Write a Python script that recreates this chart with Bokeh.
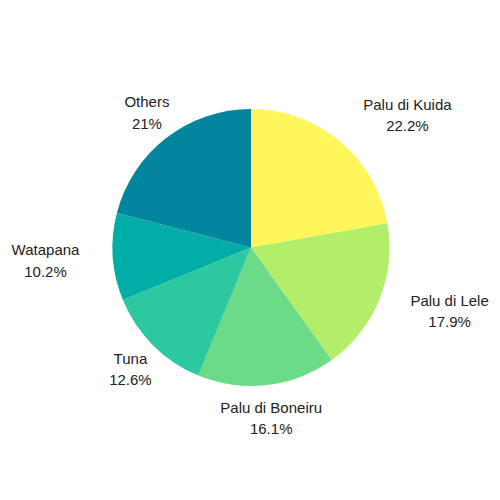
import math
from bokeh.plotting import figure
from bokeh.models import Range1d, ColumnDataSource
from bokeh.core.properties import value
from bokeh.embed import file_html
from bokeh.resources import INLINE

# ---- data ----
categories = ["Palu di Kuida", "Palu di Lele", "Palu di Boneiru", "Tuna", "Watapana", "Others"]
shares = [22.2, 17.9, 16.1, 12.6, 10.2, 21.0]
pct_labels = ["22.2%", "17.9%", "16.1%", "12.6%", "10.2%", "21%"]

# ---- style ----
colors = ["#FEF65A", "#B3EE6A", "#6CDB87", "#2DC89F", "#02ADA8", "#03859F"]
label_radius = [204.9, 208.5, 171.6, 171.1, 205.9, 170.6]   # px from centre
label_nudge_deg = [9.8, -4.4, -0.1, -0.2, 0.4, 0.2]         # clockwise nudge

W, H = 490, 484
cx, cy = 250.5, 253.0   # y measured upward (y = 500 - screen y)
R = 138.5
half_gap = 10.75

total = sum(shares)
starts, ends, mids = [], [], []
acc = 0.0
for s in shares:
    a0 = acc / total
    acc += s
    a1 = acc / total
    starts.append(math.pi / 2 - 2 * math.pi * a0)
    ends.append(math.pi / 2 - 2 * math.pi * a1)
    mids.append(360.0 * (a0 + a1) / 2)

src = ColumnDataSource(dict(cat=categories, start=starts, end=ends, color=colors))

p = figure(width=W, height=H, x_range=Range1d(0, W), y_range=Range1d(500 - H, 500),
           x_axis_type=None, y_axis_type=None, toolbar_location=None,
           output_backend="svg", min_border=0)
p.outline_line_color = None
p.grid.visible = False
p.background_fill_color = "white"
p.border_fill_color = "white"

p.wedge(x=cx, y=cy, radius=R, start_angle="start", end_angle="end",
        direction="clock", fill_color="color", line_color=None, source=src)

lx, l1y, l2y = [], [], []
for m, r, n in zip(mids, label_radius, label_nudge_deg):
    th = math.radians(m + n)
    x = cx + r * math.sin(th)
    yc = cy + r * math.cos(th)   # centre of two-line block (y up)
    lx.append(x)
    l1y.append(yc + half_gap)
    l2y.append(yc - half_gap)

common = dict(text_align="center", text_baseline="alphabetic",
              text_font=value("Liberation Sans"), text_font_size="15px",
              text_color="#222222")
p.text(x=lx, y=l1y, text=categories, **common)
p.text(x=lx, y=l2y, text=pct_labels, **common)

open("out.html", "w").write(file_html(p, INLINE))
